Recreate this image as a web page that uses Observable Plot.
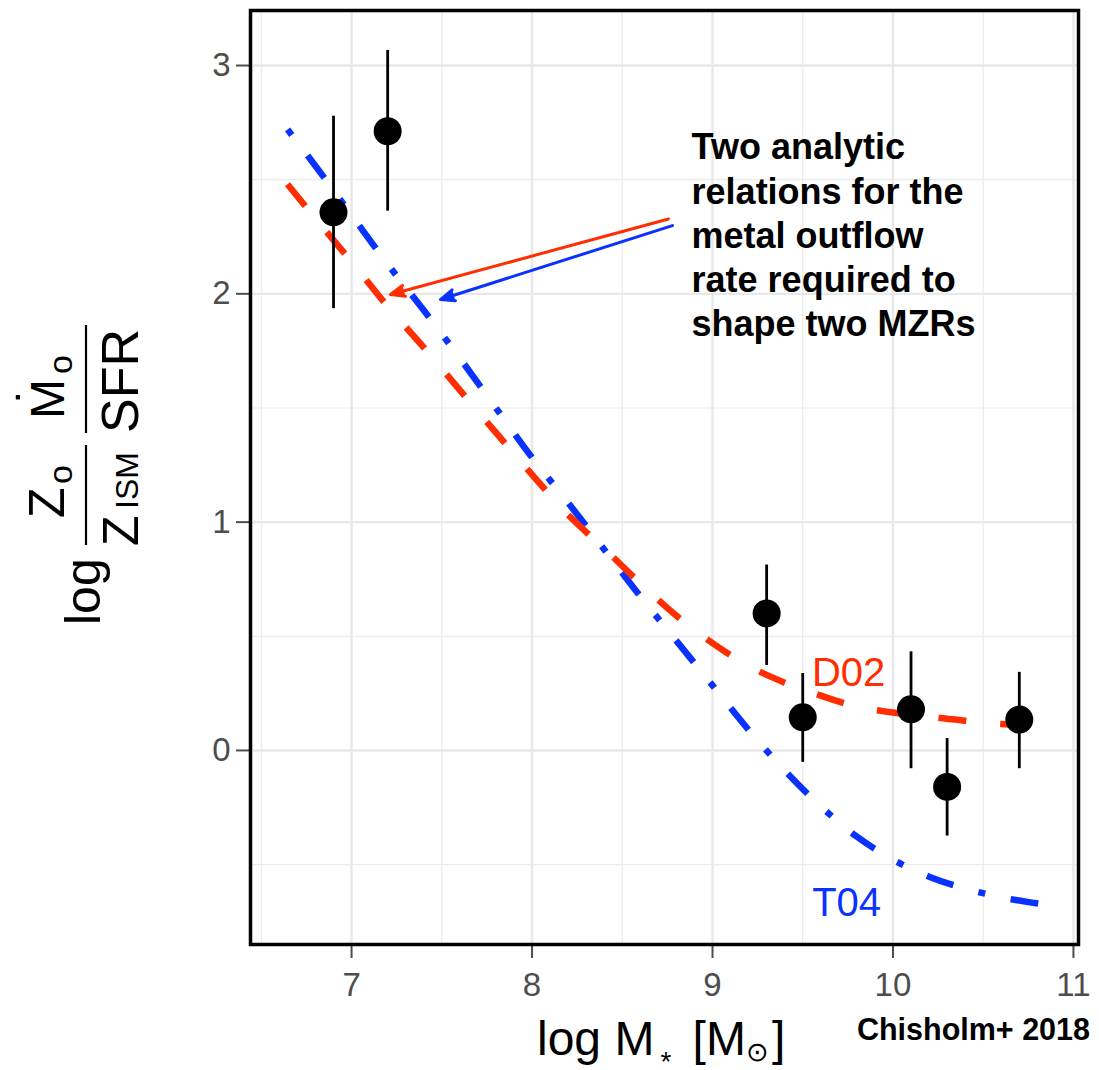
<!DOCTYPE html>
<html>
<head>
<meta charset="utf-8">
<script src="https://cdn.jsdelivr.net/npm/d3@7"></script>
<script src="https://cdn.jsdelivr.net/npm/@observablehq/plot@0.6"></script>
<style>
  body { margin: 0; background: white; }
  svg { display: block; }
</style>
</head>
<body>
<div id="chart"></div>
<script>
// ---------------- data ----------------
const massX   = [6.9, 7.2, 9.3, 9.5, 10.1, 10.3, 10.7];
const ratioY  = [2.357, 2.712, 0.600, 0.145, 0.180, -0.160, 0.135];
const errLow  = [1.935, 2.362, 0.372, -0.052, -0.080, -0.375, -0.080];
const errHigh = [2.778, 3.066, 0.812, 0.337, 0.432, 0.052, 0.342];

const curveX  = [6.645, 6.8, 7.0, 7.2, 7.4, 7.6, 7.8, 8.0, 8.2, 8.4, 8.6, 8.8, 9.0, 9.2, 9.4, 9.6, 9.8, 10.0, 10.2, 10.4, 10.6, 10.85];
const d02Y    = [2.480, 2.330, 2.140, 1.945, 1.765, 1.578, 1.392, 1.208, 1.032, 0.884, 0.732, 0.590, 0.470, 0.370, 0.297, 0.240, 0.192, 0.166, 0.148, 0.130, 0.116, 0.106];
const t04Y    = [2.720, 2.560, 2.345, 2.130, 1.928, 1.718, 1.500, 1.283, 1.085, 0.880, 0.675, 0.480, 0.285, 0.090, -0.088, -0.245, -0.378, -0.478, -0.553, -0.605, -0.643, -0.676];

const xTicks = [7, 8, 9, 10, 11];
const xMinor = [6.5, 7.5, 8.5, 9.5, 10.5];
const yTicks = [0, 1, 2, 3];
const yMinor = [-0.5, 0.5, 1.5, 2.5];

const arrowColors = ["#ff2d00", "#0a32ff"];
const arrowX1 = [8.756, 8.778];
const arrowY1 = [2.328, 2.299];
const arrowX2 = [7.216, 7.493];
const arrowY2 = [1.997, 1.975];

const curveLabels = ["D02", "T04"];
const curveLabelX = [9.754, 9.743];
const curveLabelY = [0.338, -0.668];

const noteText = "Two analytic\nrelations for the\nmetal outflow\nrate required to\nshape two MZRs";
const noteX = 8.884;
const noteY = 2.727;

const creditText = "Chisholm+ 2018";

// ---------------- tables ----------------
const points = massX.map((x, i) => ({x, y: ratioY[i], lo: errLow[i], hi: errHigh[i]}));
const d02 = curveX.map((x, i) => ({x, y: d02Y[i]}));
const t04 = curveX.map((x, i) => ({x, y: t04Y[i]}));
const arrows = arrowColors.map((c, i) => ({c, x1: arrowX1[i], y1: arrowY1[i], x2: arrowX2[i], y2: arrowY2[i]}));
const labels = curveLabels.map((t, i) => ({t, x: curveLabelX[i], y: curveLabelY[i], c: arrowColors[i]}));

const RED = "#ff2d00", BLUE = "#0a32ff";
const FONT = "'Liberation Sans', Arial, Helvetica, sans-serif";

const svg = Plot.plot({
  width: 1099,
  height: 1070,
  marginLeft: 250,
  marginRight: 21,
  marginTop: 10,
  marginBottom: 126,
  style: {fontFamily: FONT, background: "white", overflow: "visible"},
  x: {domain: [6.44, 11.028]},
  y: {domain: [-0.85, 3.241]},
  marks: [
    Plot.gridX(xMinor, {stroke: "#ebebeb", strokeOpacity: 1, strokeWidth: 1.2}),
    Plot.gridY(yMinor, {stroke: "#ebebeb", strokeOpacity: 1, strokeWidth: 1.2}),
    Plot.gridX(xTicks, {stroke: "#e8e8e8", strokeOpacity: 1, strokeWidth: 2.4}),
    Plot.gridY(yTicks, {stroke: "#e8e8e8", strokeOpacity: 1, strokeWidth: 2.4}),
    Plot.axisX({ticks: xTicks, tickFormat: d => String(d), tickSize: 14, tickPadding: 14, fontSize: 33, color: "#4d4d4d", strokeWidth: 2, label: null}),
    Plot.axisY({ticks: yTicks, tickFormat: d => String(d), tickSize: 14, tickPadding: 6, fontSize: 33, color: "#4d4d4d", strokeWidth: 2, label: null}),
    Plot.line(t04, {x: "x", y: "y", stroke: BLUE, strokeWidth: 6.5, strokeDasharray: "7,26,28,26", curve: "monotone-x", strokeLinecap: "butt"}),
    Plot.line(d02, {x: "x", y: "y", stroke: RED, strokeWidth: 6.5, strokeDasharray: "28,34", curve: "monotone-x", strokeLinecap: "butt"}),
    Plot.ruleX(points, {x: "x", y1: "lo", y2: "hi", stroke: "black", strokeWidth: 2.8}),
    Plot.dot(points, {x: "x", y: "y", r: 14, fill: "black", stroke: "none"}),
    Plot.arrow(arrows, {x1: "x1", y1: "y1", x2: "x2", y2: "y2", stroke: "c", strokeWidth: 3, headLength: 7.5, headAngle: 44}),
    Plot.text(labels, {x: "x", y: "y", text: "t", fill: "c", fontSize: 40, textAnchor: "middle"}),
    Plot.text([noteText], {x: () => noteX, y: () => noteY, text: d => d, textAnchor: "start", lineAnchor: "top", fontSize: 36, fontWeight: "bold", lineHeight: 1.23, fill: "black"}),
    Plot.frame({stroke: "black", strokeWidth: 3.5})
  ]
});

const sel = d3.select(svg);

// filled (closed) arrowheads
sel.selectAll('g[aria-label="arrow"] path').each(function () {
  const s = this.getAttribute("stroke") || (this.parentNode && this.parentNode.getAttribute("stroke"));
  if (s) this.setAttribute("fill", s);
  this.setAttribute("stroke-linejoin", "round");
});

// ---------------- axis titles ----------------
// y title: log (Z_o / Z_ISM) (Ṁ_o / SFR), rotated
const g = sel.append("g")
  .attr("transform", "translate(100,625) rotate(-90)")
  .attr("font-family", FONT)
  .attr("fill", "black");
function t(u, v, s, size, anchor) {
  g.append("text").attr("x", u).attr("y", v).attr("font-size", size)
    .attr("text-anchor", anchor || "start").text(s);
}
function bar(u1, u2, v) {
  g.append("line").attr("x1", u1).attr("x2", u2).attr("y1", v).attr("y2", v)
    .attr("stroke", "black").attr("stroke-width", 2.2);
}
t(0, 0, "log", 50);
bar(80, 180, -14);
t(107, -36, "Z", 50);
t(141, -28, "o", 34);
t(79, 38, "Z", 50);
t(116, 38, "ISM", 32);
bar(192, 300, -14);
t(192, 38, "SFR", 52);
t(206, -36, "M", 48);
t(251, -28, "o", 34);
t(230, -48, "\u02D9", 50, "middle");

// x title: log M* [M⊙]
const xl = sel.append("text")
  .attr("x", 537).attr("y", 1055)
  .attr("text-anchor", "start")
  .attr("font-family", FONT).attr("font-size", 48).attr("fill", "black");
xl.append("tspan").text("log M");
xl.append("tspan").attr("font-size", 28).attr("dx", 6).attr("dy", 16).text("*");
xl.append("tspan").attr("dy", -16).attr("dx", 8).text(" [M");
xl.append("tspan").attr("font-size", 27).attr("dy", 6).attr("dx", 0).text("\u2299");
xl.append("tspan").attr("dy", -6).attr("dx", 3).text("]");

// credit
sel.append("text")
  .attr("x", 1090).attr("y", 1040)
  .attr("text-anchor", "end")
  .attr("font-family", FONT).attr("font-size", 30.5).attr("font-weight", "bold")
  .attr("fill", "black")
  .text(creditText);

document.getElementById("chart").appendChild(svg);
</script>
</body>
</html>
